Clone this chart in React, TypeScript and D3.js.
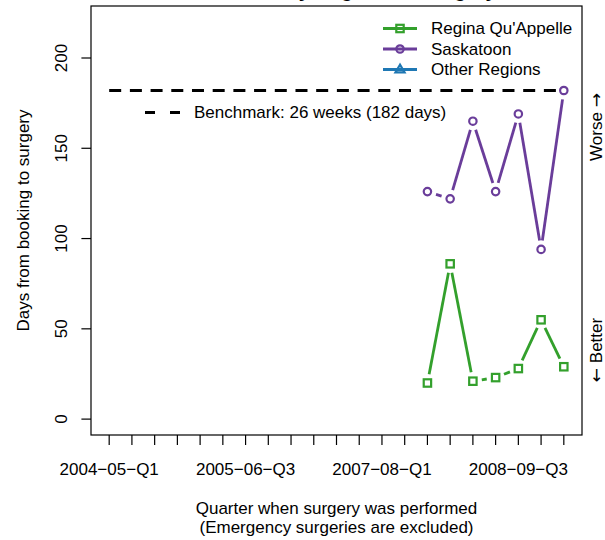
import React from "react";
import * as d3 from "d3";

const quarters = [
  "2004−05−Q1", "2004−05−Q2", "2004−05−Q3", "2004−05−Q4",
  "2005−06−Q1", "2005−06−Q2", "2005−06−Q3", "2005−06−Q4",
  "2006−07−Q1", "2006−07−Q2", "2006−07−Q3", "2006−07−Q4",
  "2007−08−Q1", "2007−08−Q2", "2007−08−Q3", "2007−08−Q4",
  "2008−09−Q1", "2008−09−Q2", "2008−09−Q3", "2008−09−Q4",
  "2009−10−Q1",
];
const dataQuarters = ["2007−08−Q3", "2007−08−Q4", "2008−09−Q1", "2008−09−Q2", "2008−09−Q3", "2008−09−Q4", "2009−10−Q1"];
const reginaValues = [20, 86, 21, 23, 28, 55, 29];
const saskatoonValues = [126, 122, 165, 126, 169, 94, 182];
const otherValues: number[] = [];
const benchmarkDays = 182;
const yTicks = [0, 50, 100, 150, 200];
const seriesNames = ["Regina Qu'Appelle", "Saskatoon", "Other Regions"];
const seriesColors = ["#33a02c", "#6a3d9a", "#1f78b4"];
const seriesShapes = ["square", "circle", "triangle"];

const W = 605, H = 540;
const L = 91, R = 582, T = 6, B = 435;
const FONT = "'Liberation Sans', Arial, Helvetica, sans-serif";
const ARROW_FONT = "'DejaVu Sans', sans-serif";
const FS = 17;

function Marker({ shape, x, y, color }: { shape: string; x: number; y: number; color: string }) {
  if (shape === "square") {
    const s = 7.4;
    return <rect x={x - s / 2} y={y - s / 2} width={s} height={s} fill="none" stroke={color} strokeWidth={2.2} />;
  }
  if (shape === "circle") {
    return <circle cx={x} cy={y} r={3.7} fill="none" stroke={color} strokeWidth={2.2} />;
  }
  const s = 4.8;
  const pts = [[x, y - s], [x - s * 0.95, y + s * 0.6], [x + s * 0.95, y + s * 0.6]];
  return <polygon points={pts.map((p) => p.join(",")).join(" ")} fill="none" stroke={color} strokeWidth={2.2} />;
}

function GapLines({ pts, color, gap }: { pts: [number, number][]; color: string; gap: number }) {
  const segs: JSX.Element[] = [];
  for (let i = 0; i < pts.length - 1; i++) {
    const [x1, y1] = pts[i];
    const [x2, y2] = pts[i + 1];
    const dx = x2 - x1, dy = y2 - y1;
    const d = Math.hypot(dx, dy);
    if (d <= 2 * gap) continue;
    const ux = dx / d, uy = dy / d;
    segs.push(
      <line key={i} x1={x1 + ux * gap} y1={y1 + uy * gap} x2={x2 - ux * gap} y2={y2 - uy * gap}
        stroke={color} strokeWidth={2.8} />
    );
  }
  return <g>{segs}</g>;
}

export default function App() {
  const x = d3.scaleLinear().domain([-0.8, quarters.length - 1 + 0.8]).range([L, R]);
  const y = d3.scaleLinear().domain([-8.8, 228.8]).range([B, T]);
  const xi = (q: string) => x(quarters.indexOf(q));

  const series = [reginaValues, saskatoonValues, otherValues];
  const cx = (L + R) / 2;
  const cy = (T + B) / 2;

  return (
    <svg width={W} height={H} style={{ position: "absolute", left: 0, top: 0, fontFamily: FONT }}>
      <rect width={W} height={H} fill="white" />
      {/* title (cut off at the top edge, as in the reference) */}
      <text x={cx} y={-3.5} textAnchor="middle" fontSize={20} fontWeight="bold" fill="#000">
        Wait Times by Region for Surgery
      </text>

      {/* benchmark line */}
      <line x1={x(0)} x2={x(quarters.length - 1)} y1={y(benchmarkDays)} y2={y(benchmarkDays)}
        stroke="#000" strokeWidth={3.2} strokeDasharray="12 8.7" />
      <line x1={145} x2={180} y1={112.5} y2={112.5} stroke="#000" strokeWidth={3.2} strokeDasharray="10 15" />
      <text x={194} y={112.5} dy="0.35em" fontSize={FS} fill="#000">Benchmark: 26 weeks (182 days)</text>

      {/* series */}
      {series.map((vals, si) => {
        const pts: [number, number][] = vals.map((v, i) => [xi(dataQuarters[i]), y(v)]);
        return (
          <g key={si}>
            <GapLines pts={pts} color={seriesColors[si]} gap={9} />
            {pts.map((p, i) => (
              <Marker key={i} shape={seriesShapes[si]} x={p[0]} y={p[1]} color={seriesColors[si]} />
            ))}
          </g>
        );
      })}

      {/* legend */}
      {seriesNames.map((name, i) => {
        const ly = 28.5 + i * 20.5;
        return (
          <g key={name}>
            <line x1={383} x2={417} y1={ly} y2={ly} stroke={seriesColors[i]} strokeWidth={2.8} />
            <Marker shape={seriesShapes[i]} x={400} y={ly} color={seriesColors[i]} />
            <text x={431} y={ly} dy="0.35em" fontSize={FS} fill="#000">{name}</text>
          </g>
        );
      })}

      {/* box */}
      <rect x={L} y={T} width={R - L} height={B - T} fill="none" stroke="#000" strokeWidth={1.2} />

      {/* y axis */}
      {yTicks.map((t) => (
        <g key={t}>
          <line x1={L - 9.6} x2={L} y1={y(t)} y2={y(t)} stroke="#000" strokeWidth={1.2} />
          <text transform={`translate(${67},${y(t)}) rotate(-90)`} textAnchor="middle" fontSize={FS} fill="#000">{t}</text>
        </g>
      ))}
      <text transform={`translate(${29},${cy}) rotate(-90)`} textAnchor="middle" fontSize={FS} fill="#000">
        Days from booking to surgery
      </text>

      {/* x axis */}
      {quarters.map((q, i) => (
        <g key={q}>
          <line x1={x(i)} x2={x(i)} y1={B} y2={B + 10} stroke="#000" strokeWidth={1.2} />
          {i % 6 === 0 && (
            <text x={x(i)} y={475} textAnchor="middle" fontSize={FS} fill="#000">{q}</text>
          )}
        </g>
      ))}
      <text x={cx} y={514} textAnchor="middle" fontSize={FS} fill="#000">Quarter when surgery was performed</text>
      <text x={cx} y={533} textAnchor="middle" fontSize={FS} fill="#000">(Emergency surgeries are excluded)</text>

      {/* right side annotations */}
      <text transform={`translate(${602},${127}) rotate(-90)`} textAnchor="middle" fontSize={FS} fill="#000">
        Worse <tspan fontFamily={ARROW_FONT}>→</tspan>
      </text>
      <text transform={`translate(${602},${350}) rotate(-90)`} textAnchor="middle" fontSize={FS} fill="#000">
        <tspan fontFamily={ARROW_FONT}>←</tspan> Better
      </text>
    </svg>
  );
}
